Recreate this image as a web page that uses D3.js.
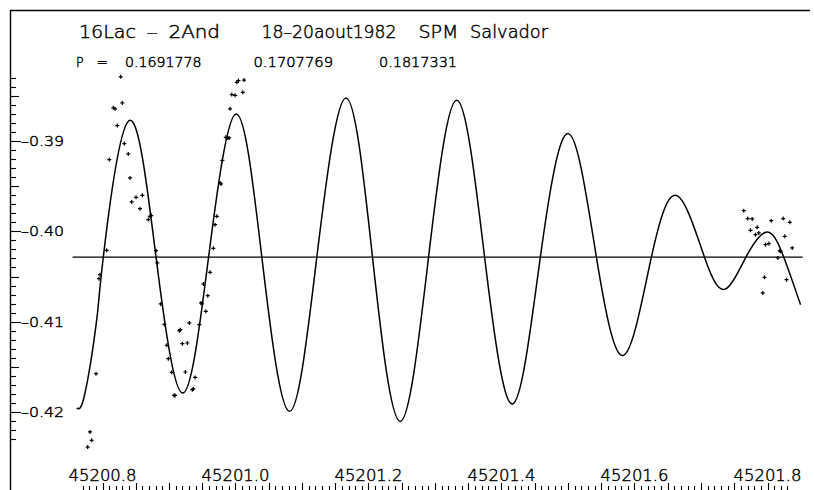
<!DOCTYPE html>
<html>
<head>
<meta charset="utf-8">
<script src="https://cdn.jsdelivr.net/npm/d3@7"></script>
<style>
  body { margin: 0; background: #fff; }
  svg text { font-family: "DejaVu Sans", sans-serif; font-weight: 200; fill: #000; stroke: #000; stroke-width: 0.45px; }
</style>
</head>
<body>
<div id="chart"></div>
<script>
// title pieces and the three periods
var titleWords = ["16Lac", "\u2013", "2And", "18\u201320aout1982", "SPM", "Salvador"];
var periodLabel = ["P", "="];
var periods = ["0.1691778", "0.1707769", "0.1817331"];

var xTickLabels = [45200.8, 45201.0, 45201.2, 45201.4, 45201.6, 45201.8];
var yTickLabels = [-0.39, -0.40, -0.41, -0.42];

// mean level (horizontal line) and its extent in time
var meanLevel = -0.40286;
var meanSpan = [45200.755, 45201.853];

// fitted curve (extremes and crossings of the mean)
var curveT = [45200.7612, 45200.7737, 45200.7913, 45200.8012, 45200.8399, 45200.8805,
    45200.9207, 45200.9595, 45201.0009, 45201.0396, 45201.0811, 45201.1223,
    45201.1660, 45201.2060, 45201.2477, 45201.2903, 45201.3330, 45201.3746,
    45201.4167, 45201.4584, 45201.5010, 45201.5427, 45201.5837, 45201.6254,
    45201.6641, 45201.7052, 45201.7360, 45201.7676, 45201.7995, 45201.8245, 45201.8497];
var curveV = [-0.41956, -0.41790, -0.40978, -0.40286, -0.38774, -0.40286,
    -0.41790, -0.40286, -0.38700, -0.40286, -0.41993, -0.40286,
    -0.38523, -0.40286, -0.42104, -0.40286, -0.38549, -0.40286,
    -0.41911, -0.40286, -0.38918, -0.40286, -0.41373, -0.40286,
    -0.39605, -0.40286, -0.40640, -0.40286, -0.40007, -0.40286, -0.40812];

// observations
var obsT = [45200.7777, 45200.7837, 45200.7812, 45200.7902, 45200.7947, 45200.7962,
    45200.8063, 45200.8102, 45200.8163, 45200.8188, 45200.8223, 45200.8274,
    45200.8298, 45200.8328, 45200.8388, 45200.8414, 45200.8439, 45200.8504,
    45200.8599, 45200.8564, 45200.8689, 45200.8715, 45200.8734, 45200.8805,
    45200.8825, 45200.8876, 45200.8930, 45200.8966, 45200.8990, 45200.9041,
    45200.9076, 45200.9091, 45200.9156, 45200.9171, 45200.9201, 45200.9276,
    45200.9306, 45200.9246, 45200.9351, 45200.9366, 45200.9392, 45200.9457,
    45200.9482, 45200.9497, 45200.9553, 45200.9517, 45200.9583, 45200.9618,
    45200.9667, 45200.9693, 45200.9719, 45200.9768, 45200.9783, 45200.9803,
    45200.9854, 45200.9884, 45200.9904, 45200.9919, 45200.9944, 45200.9994,
    45201.0110, 45201.0020, 45201.0044, 45201.0129,
    45201.7643, 45201.7703, 45201.7770, 45201.7744, 45201.7845, 45201.7819,
    45201.7869, 45201.8056, 45201.8236, 45201.8336, 45201.7970, 45201.8020,
    45201.8260, 45201.8185, 45201.8196, 45201.8155, 45201.8372, 45201.7955,
    45201.8286, 45201.7929];
var obsV = [-0.42388, -0.42314, -0.42221, -0.41576, -0.40524, -0.40480,
    -0.40210, -0.39206, -0.38633, -0.38644, -0.38829, -0.38290,
    -0.38578, -0.39029, -0.39143, -0.39409, -0.39674, -0.39623,
    -0.39601, -0.39749, -0.39870, -0.39834, -0.39826, -0.40214,
    -0.40350, -0.40804, -0.41030, -0.41262, -0.41410, -0.41561,
    -0.41816, -0.41816, -0.41100, -0.41089, -0.41244, -0.41236,
    -0.41014, -0.41557, -0.41753, -0.41745, -0.41617, -0.41033,
    -0.40793, -0.40804, -0.40886, -0.40583, -0.40712, -0.40454,
    -0.40188, -0.39926, -0.39834, -0.39464, -0.39475, -0.39214,
    -0.38959, -0.38966, -0.38966, -0.38644, -0.38486, -0.38494,
    -0.38461, -0.38350, -0.38331, -0.38326,
    -0.39771, -0.39859, -0.39863, -0.39989, -0.39956, -0.40037,
    -0.40018, -0.39882, -0.39859, -0.39900, -0.40147, -0.40136,
    -0.40055, -0.40214, -0.40221, -0.40295, -0.40184, -0.40509,
    -0.40535, -0.40682];

var width = 814, height = 490;

var svg = d3.select("#chart").append("svg")
    .attr("width", width)
    .attr("height", height);

var x = d3.scaleLinear().domain([45200.8, 45201.8]).range([102.5, 767.5]);
var y = d3.scaleLinear().domain([-0.42, -0.39]).range([412, 141]);

// frame: top and left edges
svg.append("line").attr("x1", 10).attr("x2", 810).attr("y1", 10.5).attr("y2", 10.5)
    .attr("stroke", "#000").attr("stroke-width", 1.6);
svg.append("line").attr("x1", 10.5).attr("x2", 10.5).attr("y1", 10).attr("y2", 490)
    .attr("stroke", "#000").attr("stroke-width", 1.4);

// titles
var titleX = [79, 146.5, 168.5, 261.5, 418.5, 470];
var titleW = [57, 11.5, 51.5, 135, 40, 78];
svg.selectAll("text.title").data(titleWords).enter().append("text")
    .attr("class", "title")
    .attr("x", function (d, i) { return titleX[i]; })
    .attr("y", 37.5)
    .attr("textLength", function (d, i) { return titleW[i]; })
    .attr("lengthAdjust", "spacingAndGlyphs")
    .style("font-size", "18px")
    .text(function (d) { return d; });

var pX = [76, 96.5, 125, 253.5, 379];
var pW = [7.5, 11.5, 76.5, 79.5, 78];
svg.selectAll("text.per").data(periodLabel.concat(periods)).enter().append("text")
    .attr("class", "per")
    .attr("x", function (d, i) { return pX[i]; })
    .attr("y", 66.5)
    .attr("textLength", function (d, i) { return pW[i]; })
    .attr("lengthAdjust", "spacingAndGlyphs")
    .style("font-size", "13.5px")
    .text(function (d) { return d; });

// y axis ticks (inside, from the left edge)
var yMinor = d3.range(-423, -382).map(function (k) { return k / 1000; });
svg.append("g").selectAll("line").data(yMinor).enter().append("line")
    .attr("x1", 10)
    .attr("x2", function (d) {
        var k = Math.round(Math.abs(d) * 1000);
        return k % 10 === 0 ? 21 : (k % 5 === 0 ? 19 : 16);
    })
    .attr("y1", function (d) { return Math.round(y(d)) + 0.5; })
    .attr("y2", function (d) { return Math.round(y(d)) + 0.5; })
    .attr("stroke", "#000").attr("stroke-width", 1.1);

svg.append("g").selectAll("text").data(yTickLabels).enter().append("text")
    .attr("x", 21)
    .attr("y", function (d) { return y(d); })
    .attr("dy", "0.36em")
    .attr("textLength", 43)
    .attr("lengthAdjust", "spacingAndGlyphs")
    .style("font-size", "14px")
    .text(function (d) { return "\u2013" + d3.format(".2f")(Math.abs(d)); });

// x axis ticks (from the bottom edge, upward)
var xMinor = d3.range(77, 184).map(function (k) { return 45200 + k / 100; });
svg.append("g").selectAll("line").data(xMinor).enter().append("line")
    .attr("x1", function (d) { return Math.round(x(d)) + 0.5; })
    .attr("x2", function (d) { return Math.round(x(d)) + 0.5; })
    .attr("y1", 490)
    .attr("y2", function (d) {
        var k = Math.round((d - 45200) * 100);
        return k % 5 === 0 ? 483 : 486;
    })
    .attr("stroke", "#000").attr("stroke-width", 1.1);

svg.append("g").selectAll("text").data(xTickLabels).enter().append("text")
    .attr("x", function (d) { return x(d); })
    .attr("y", 481)
    .attr("text-anchor", "middle")
    .attr("textLength", 68)
    .attr("lengthAdjust", "spacingAndGlyphs")
    .style("font-size", "16px")
    .text(function (d) { return d3.format(".1f")(d); });

// mean level
svg.append("line")
    .attr("x1", x(meanSpan[0])).attr("x2", x(meanSpan[1]))
    .attr("y1", y(meanLevel)).attr("y2", y(meanLevel))
    .attr("stroke", "#000").attr("stroke-width", 1.3);

// fitted curve
var line = d3.line()
    .x(function (d) { return x(d[0]); })
    .y(function (d) { return y(d[1]); })
    .curve(d3.curveNatural);

svg.append("path")
    .datum(d3.zip(curveT, curveV))
    .attr("d", line)
    .attr("fill", "none")
    .attr("stroke", "#000")
    .attr("stroke-width", 1.5);

// observations as small crosses
svg.append("g").selectAll("path").data(d3.zip(obsT, obsV)).enter().append("path")
    .attr("transform", function (d) { return "translate(" + x(d[0]) + "," + y(d[1]) + ")"; })
    .attr("d", "M-2,0H2M0,-2V2")
    .attr("stroke", "#000")
    .attr("stroke-width", 1.2);
</script>
</body>
</html>
